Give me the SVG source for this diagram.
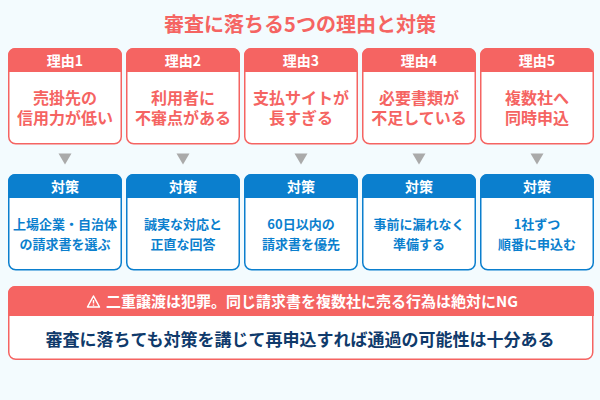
<svg xmlns="http://www.w3.org/2000/svg" width="600" height="400" viewBox="0 0 600 400">
<style>
text{font-family:"Noto Sans CJK JP","Noto Sans",sans-serif;font-weight:700;text-anchor:middle}
.t{font-size:20px;fill:#f56462}
.h{font-size:14px;fill:#fff}
.r{font-size:16px;fill:#f56462}
.s{font-size:13px;fill:#0b7fce}
.w{font-size:15px;fill:#fff}
.m{font-size:17px;fill:#0f3a6b}
.rb{fill:#fff;stroke:#f56462;stroke-width:1.5}
.rh{fill:#f56462}
.bb{fill:#fff;stroke:#0b7fce;stroke-width:1.5}
.bh{fill:#0b7fce}
.a{fill:#aaaaaa}
</style>
<defs>
<g id="redcard"><rect class="rb" x="8.75" y="48.75" width="112.5" height="95" rx="7"/><path class="rh" d="M8 72V55a7 7 0 0 1 7-7H115a7 7 0 0 1 7 7V72Z"/></g>
<g id="bluecard"><rect class="bb" x="8.75" y="174.75" width="112.5" height="95" rx="7"/><path class="bh" d="M8 198V181a7 7 0 0 1 7-7H115a7 7 0 0 1 7 7V198Z"/></g>
</defs>
<rect width="600" height="400" fill="#f3fbfe"/>
<text class="t" x="300" y="32">審査に落ちる5つの理由と対策</text>
<g id="connectors">
<path class="a" d="M58.500 153.500h13l-6.500 11z"/>
<path class="a" d="M176.500 153.500h13l-6.500 11z"/>
<path class="a" d="M294.500 153.500h13l-6.500 11z"/>
<path class="a" d="M412.500 153.500h13l-6.500 11z"/>
<path class="a" d="M530.500 153.500h13l-6.500 11z"/>
</g>
<g id="reason1"><use href="#redcard"/><text class="h" x="65" y="66">理由1</text><text class="r" x="65" y="104">売掛先の</text><text class="r" x="65" y="124">信用力が低い</text></g>
<g id="reason2"><use href="#redcard" x="118"/><text class="h" x="183" y="66">理由2</text><text class="r" x="183" y="104">利用者に</text><text class="r" x="183" y="124">不審点がある</text></g>
<g id="reason3"><use href="#redcard" x="236"/><text class="h" x="301" y="66">理由3</text><text class="r" x="301" y="104">支払サイトが</text><text class="r" x="301" y="124">長すぎる</text></g>
<g id="reason4"><use href="#redcard" x="354"/><text class="h" x="419" y="66">理由4</text><text class="r" x="419" y="104">必要書類が</text><text class="r" x="419" y="124">不足している</text></g>
<g id="reason5"><use href="#redcard" x="472"/><text class="h" x="537" y="66">理由5</text><text class="r" x="537" y="104">複数社へ</text><text class="r" x="537" y="124">同時申込</text></g>
<g id="measure1"><use href="#bluecard"/><text class="h" x="65" y="192">対策</text><text class="s" x="65" y="229">上場企業・自治体</text><text class="s" x="65" y="249">の請求書を選ぶ</text></g>
<g id="measure2"><use href="#bluecard" x="118"/><text class="h" x="183" y="192">対策</text><text class="s" x="183" y="229">誠実な対応と</text><text class="s" x="183" y="249">正直な回答</text></g>
<g id="measure3"><use href="#bluecard" x="236"/><text class="h" x="301" y="192">対策</text><text class="s" x="301" y="229">60日以内の</text><text class="s" x="301" y="249">請求書を優先</text></g>
<g id="measure4"><use href="#bluecard" x="354"/><text class="h" x="419" y="192">対策</text><text class="s" x="419" y="229">事前に漏れなく</text><text class="s" x="419" y="249">準備する</text></g>
<g id="measure5"><use href="#bluecard" x="472"/><text class="h" x="537" y="192">対策</text><text class="s" x="537" y="229">1社ずつ</text><text class="s" x="537" y="249">順番に申込む</text></g>
<g id="warning">
<rect class="rb" x="8.750" y="286.750" width="584" height="72.500" rx="7"/>
<path class="rh" d="M8 316V293a7 7 0 0 1 7-7H587a7 7 0 0 1 7 7V316Z"/>
<path d="M93.500 296l6 11h-12z" fill="none" stroke="#fff" stroke-width="1.500" stroke-linejoin="round"/>
<path d="M93.500 300v3.500M93.500 304.500v1.300" stroke="#fff" stroke-width="1.400" fill="none"/>
<text class="w" x="312" y="307">二重譲渡は犯罪。同じ請求書を複数社に売る行為は絶対にNG</text>
<text class="m" x="300" y="346">審査に落ちても対策を講じて再申込すれば通過の可能性は十分ある</text>
</g>
</svg>
